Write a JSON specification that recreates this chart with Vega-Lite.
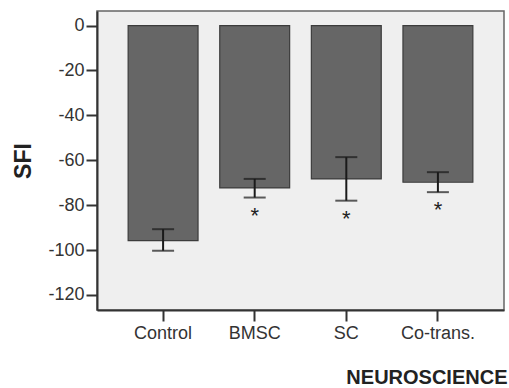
{
  "$schema": "https://vega.github.io/schema/vega-lite/v6.json",
  "width": 407,
  "height": 299,
  "autosize": {"type": "none"},
  "padding": {"left": 97, "top": 11, "right": 5, "bottom": 78},
  "background": "#ffffff",
  "config": {
    "view": {"fill": "#efefef", "stroke": "#666666", "strokeWidth": 1.5},
    "font": "Liberation Sans",
    "axis": {"grid": false}
  },
  "data": {
    "values": [
      {"group": "Control", "mean": -95.8, "low": -100.3, "high": -90.7, "sig": ""},
      {"group": "BMSC", "mean": -72.3, "low": -76.6, "high": -68.3, "sig": "*"},
      {"group": "SC", "mean": -68.3, "low": -78.0, "high": -58.6, "sig": "*"},
      {"group": "Co-trans.", "mean": -69.8, "low": -74.2, "high": -65.3, "sig": "*"}
    ]
  },
  "encoding": {
    "x": {
      "field": "group",
      "type": "nominal",
      "sort": null,
      "scale": {"paddingInner": 0.237, "paddingOuter": 0.34},
      "axis": {
        "title": "NEUROSCIENCE",
        "titleFont": "Liberation Sans",
        "titleFontSize": 20,
        "titleFontWeight": "bold",
        "titleColor": "#222222",
        "titleX": 410,
        "titleY": 73,
        "titleAlign": "right",
        "titleBaseline": "alphabetic",
        "labelAngle": 0,
        "labelFontSize": 18,
        "labelColor": "#333333",
        "labelPadding": 3,
        "tickSize": 11,
        "tickWidth": 2,
        "tickColor": "#333333",
        "domainColor": "#333333",
        "domainWidth": 2
      }
    }
  },
  "layer": [
    {
      "mark": {"type": "bar", "fill": "#666666", "stroke": "#3c3c3c", "strokeWidth": 1.2},
      "encoding": {
        "y": {
          "field": "mean",
          "type": "quantitative",
          "scale": {"domain": [-126.7, 6.5], "nice": false, "zero": false},
          "axis": {
            "title": "SFI",
            "titleFontSize": 23,
            "titleFontWeight": "bold",
            "titleColor": "#222222",
            "titlePadding": 12,
            "values": [0, -20, -40, -60, -80, -100, -120],
            "labelExpr": "replace(datum.label, '\u2212', '-')",
            "labelFontSize": 18,
            "labelColor": "#333333",
            "labelPadding": 2,
            "tickSize": 11,
            "tickWidth": 2,
            "tickColor": "#333333",
            "domainColor": "#333333",
            "domainWidth": 2
          }
        },
        "y2": {"datum": 0}
      }
    },
    {
      "mark": {"type": "rule", "color": "#1a1a1a", "strokeWidth": 2},
      "encoding": {
        "y": {"field": "low", "type": "quantitative"},
        "y2": {"field": "high"}
      }
    },
    {
      "mark": {"type": "tick", "color": "#1a1a1a", "thickness": 2, "size": 22},
      "encoding": {"y": {"field": "low", "type": "quantitative"}}
    },
    {
      "mark": {"type": "tick", "color": "#1a1a1a", "thickness": 2, "size": 22},
      "encoding": {"y": {"field": "high", "type": "quantitative"}}
    },
    {
      "mark": {"type": "text", "fontSize": 22, "color": "#222222", "baseline": "top", "dy": 8},
      "encoding": {
        "y": {"field": "low", "type": "quantitative"},
        "text": {"field": "sig"}
      }
    }
  ]
}
